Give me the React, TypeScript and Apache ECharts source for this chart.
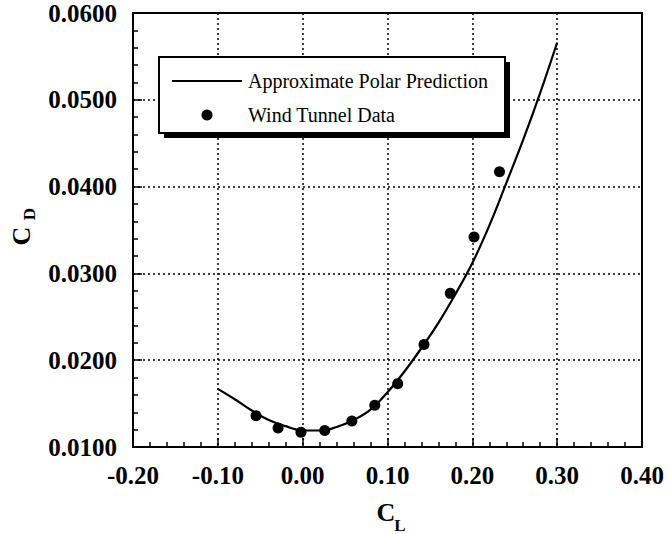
import React, { useEffect, useRef } from 'react';
import * as echarts from 'echarts';

// Approximate polar prediction
const curveCL = [-0.10, -0.08, -0.06, -0.04, -0.02, 0.00, 0.02, 0.04, 0.06, 0.08, 0.10, 0.12, 0.14, 0.16, 0.18, 0.20, 0.22, 0.24, 0.26, 0.28, 0.30];
const curveCD = [0.0167, 0.0155, 0.0142, 0.0131, 0.0124, 0.0119, 0.0119, 0.0123, 0.0131, 0.0143, 0.0163, 0.0187, 0.0214, 0.0243, 0.0276, 0.0312, 0.0355, 0.0404, 0.0454, 0.0508, 0.0566];

// Wind tunnel data points
const tunnelCL = [-0.055, -0.029, -0.002, 0.026, 0.058, 0.085, 0.112, 0.143, 0.174, 0.202, 0.232];
const tunnelCD = [0.0136, 0.0122, 0.0117, 0.0119, 0.0130, 0.0148, 0.0173, 0.0218, 0.0277, 0.0342, 0.0417];

const seriesNames = ['Approximate Polar Prediction', 'Wind Tunnel Data'];
const xDecimals = 2;
const yDecimals = 4;

const FONT = '"Liberation Serif", "Times New Roman", serif';

function makeAxis(decimals: number, range: [number, number, number]) {
  return {
    type: 'value',
    min: range[0], max: range[1], interval: range[2],
    axisLine: { show: true, onZero: false, lineStyle: { color: '#000', width: 2 } },
    axisTick: { show: true, inside: true, length: 9, lineStyle: { color: '#000', width: 1.5 } },
    minorTick: { show: true, splitNumber: 5, length: 5, lineStyle: { color: '#000', width: 1.5 } },
    splitLine: { show: true, lineStyle: { color: '#000', type: [2, 3], width: 1.5 } },
    axisLabel: {
      margin: 16, fontSize: 25, fontWeight: 'bold', color: '#000', fontFamily: FONT,
      formatter: (v: number) => v.toFixed(decimals),
    },
  };
}

export default function App() {
  const ref = useRef<HTMLDivElement>(null);

  useEffect(() => {
    if (!ref.current) return;
    const chart = echarts.init(ref.current, undefined, { renderer: 'svg' });

    const textStyle = (text: string, size: number, weight: string) => ({
      text, font: `${weight} ${size}px ${FONT}`, fill: '#000', align: 'center', verticalAlign: 'middle',
    });

    chart.setOption({
      animation: false,
      backgroundColor: '#fff',
      textStyle: { fontFamily: FONT },
      grid: {
        left: 133, top: 13, right: 27, bottom: 87,
        show: true, borderColor: '#000', borderWidth: 2,
      },
      xAxis: makeAxis(xDecimals, [-0.2, 0.4, 0.1]),
      yAxis: makeAxis(yDecimals, [0.01, 0.06, 0.01]),
      graphic: [
        // legend box with drop shadow
        { type: 'rect', z: 20, shape: { x: 164, y: 62, width: 346, height: 76 }, style: { fill: '#000' } },
        { type: 'rect', z: 21, shape: { x: 159, y: 57, width: 346, height: 76 }, style: { fill: '#fff', stroke: '#000', lineWidth: 2 } },
        { type: 'line', z: 22, shape: { x1: 172, y1: 81, x2: 242, y2: 81 }, style: { stroke: '#000', lineWidth: 2.2 } },
        { type: 'text', z: 22, x: 248, y: 81, style: { text: seriesNames[0], font: `20px ${FONT}`, fill: '#000', align: 'left', verticalAlign: 'middle' } },
        { type: 'circle', z: 22, shape: { cx: 207, cy: 115, r: 5.5 }, style: { fill: '#000' } },
        { type: 'text', z: 22, x: 248, y: 115, style: { text: seriesNames[1], font: `20px ${FONT}`, fill: '#000', align: 'left', verticalAlign: 'middle' } },
        // axis titles
        { type: 'text', z: 10, x: 386, y: 512, style: textStyle('C', 26, 'bold') },
        { type: 'text', z: 10, x: 400, y: 525, style: textStyle('L', 17, 'bold') },
        { type: 'text', z: 10, x: 21, y: 236, rotation: Math.PI / 2, style: textStyle('C', 26, 'bold') },
        { type: 'text', z: 10, x: 29, y: 214, rotation: Math.PI / 2, style: textStyle('D', 17, 'bold') },
      ],
      series: [
        {
          name: seriesNames[0],
          type: 'line',
          data: curveCL.map((x, i) => [x, curveCD[i]]),
          smooth: 0.4,
          symbol: 'none',
          lineStyle: { color: '#000', width: 2.2 },
          itemStyle: { color: '#000' },
        },
        {
          name: seriesNames[1],
          type: 'scatter',
          data: tunnelCL.map((x, i) => [x, tunnelCD[i]]),
          symbol: 'circle',
          symbolSize: 11,
          itemStyle: { color: '#000', opacity: 1 },
        },
      ],
    });

    return () => chart.dispose();
  }, []);

  return <div ref={ref} style={{ position: 'fixed', left: 0, top: 0, width: 669, height: 534 }} />;
}
